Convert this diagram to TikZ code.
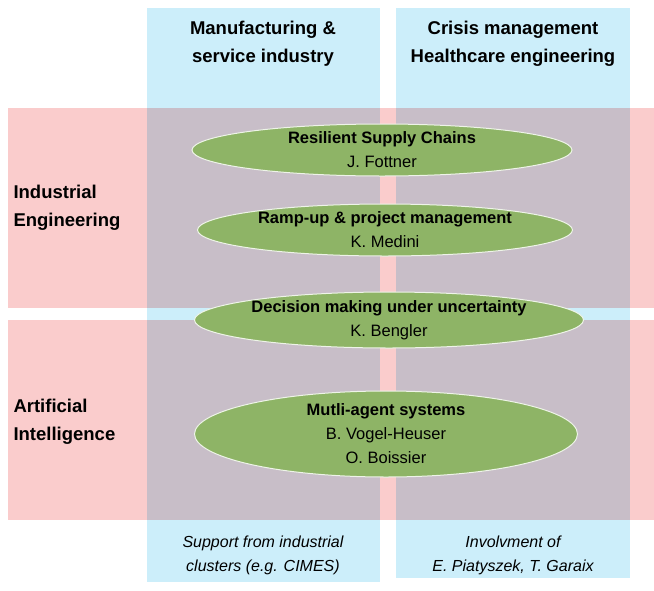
\documentclass[tikz,border=0pt]{standalone}
\usepackage{fontspec}
\setmainfont{Liberation Sans}
\usetikzlibrary{shapes.geometric}
\definecolor{colblue}{RGB}{204,238,250}
\definecolor{rowpink}{RGB}{250,204,204}
\definecolor{topicgreen}{RGB}{142,180,102}
\tikzset{
  column/.style={fill=colblue,draw=none},
  row/.style={fill=rowpink,draw=none},
  topic/.style={ellipse,fill=topicgreen,draw=white!85!topicgreen,line width=1pt,inner sep=0pt,align=center,font=\fontsize{16.5}{24}\selectfont},
  head/.style={align=center,font=\bfseries\fontsize{18.5}{28}\selectfont},
  side/.style={anchor=west,align=left,font=\bfseries\fontsize{18.5}{28}\selectfont},
  foot/.style={align=center,font=\itshape\fontsize{16}{24}\selectfont}
}
\begin{document}
\begin{tikzpicture}[x=1pt,y=-1pt]
  \useasboundingbox (0,0) rectangle (654,590);
  % columns and rows
  \fill[column] (147,8) rectangle (380,582);
  \fill[column] (396,8) rectangle (630,578);
  \begin{scope}[blend mode=multiply]
  \fill[row] (8,108) rectangle (654,308);
  \fill[row] (8,320) rectangle (654,520);
  \end{scope}
  % headers
  \node[head] (manuf) at (263,44) {Manufacturing \&\\service industry};
  \node[head] (crisis) at (513,44) {Crisis management\\Healthcare engineering};
  \node[side] (indeng) at (10,208) {Industrial\\Engineering};
  \node[side] (artint) at (10,422) {Artificial\\Intelligence};
  % topics
  \node[topic,minimum width=380,minimum height=52] (supply) at (382,150)
    {\textbf{Resilient Supply Chains}\\J. Fottner};
  \node[topic,minimum width=375,minimum height=52] (rampup) at (385,230)
    {\textbf{Ramp-up \& project management}\\K. Medini};
  \node[topic,minimum width=387,minimum height=56] (decision) at (389,320)
    {\textbf{Decision making under uncertainty}\\K. Bengler};
  \node[topic,minimum width=383,minimum height=86] (agents) at (386,434)
    {\textbf{Mutli-agent systems}\\B. Vogel-Heuser\\O. Boissier};
  % footers
  \node[foot] (support) at (263,555) {Support from industrial\\clusters (e.g. CIMES)};
  \node[foot] (involv) at (513,555) {Involvment of\\E. Piatyszek, T. Garaix};
\end{tikzpicture}
\end{document}
